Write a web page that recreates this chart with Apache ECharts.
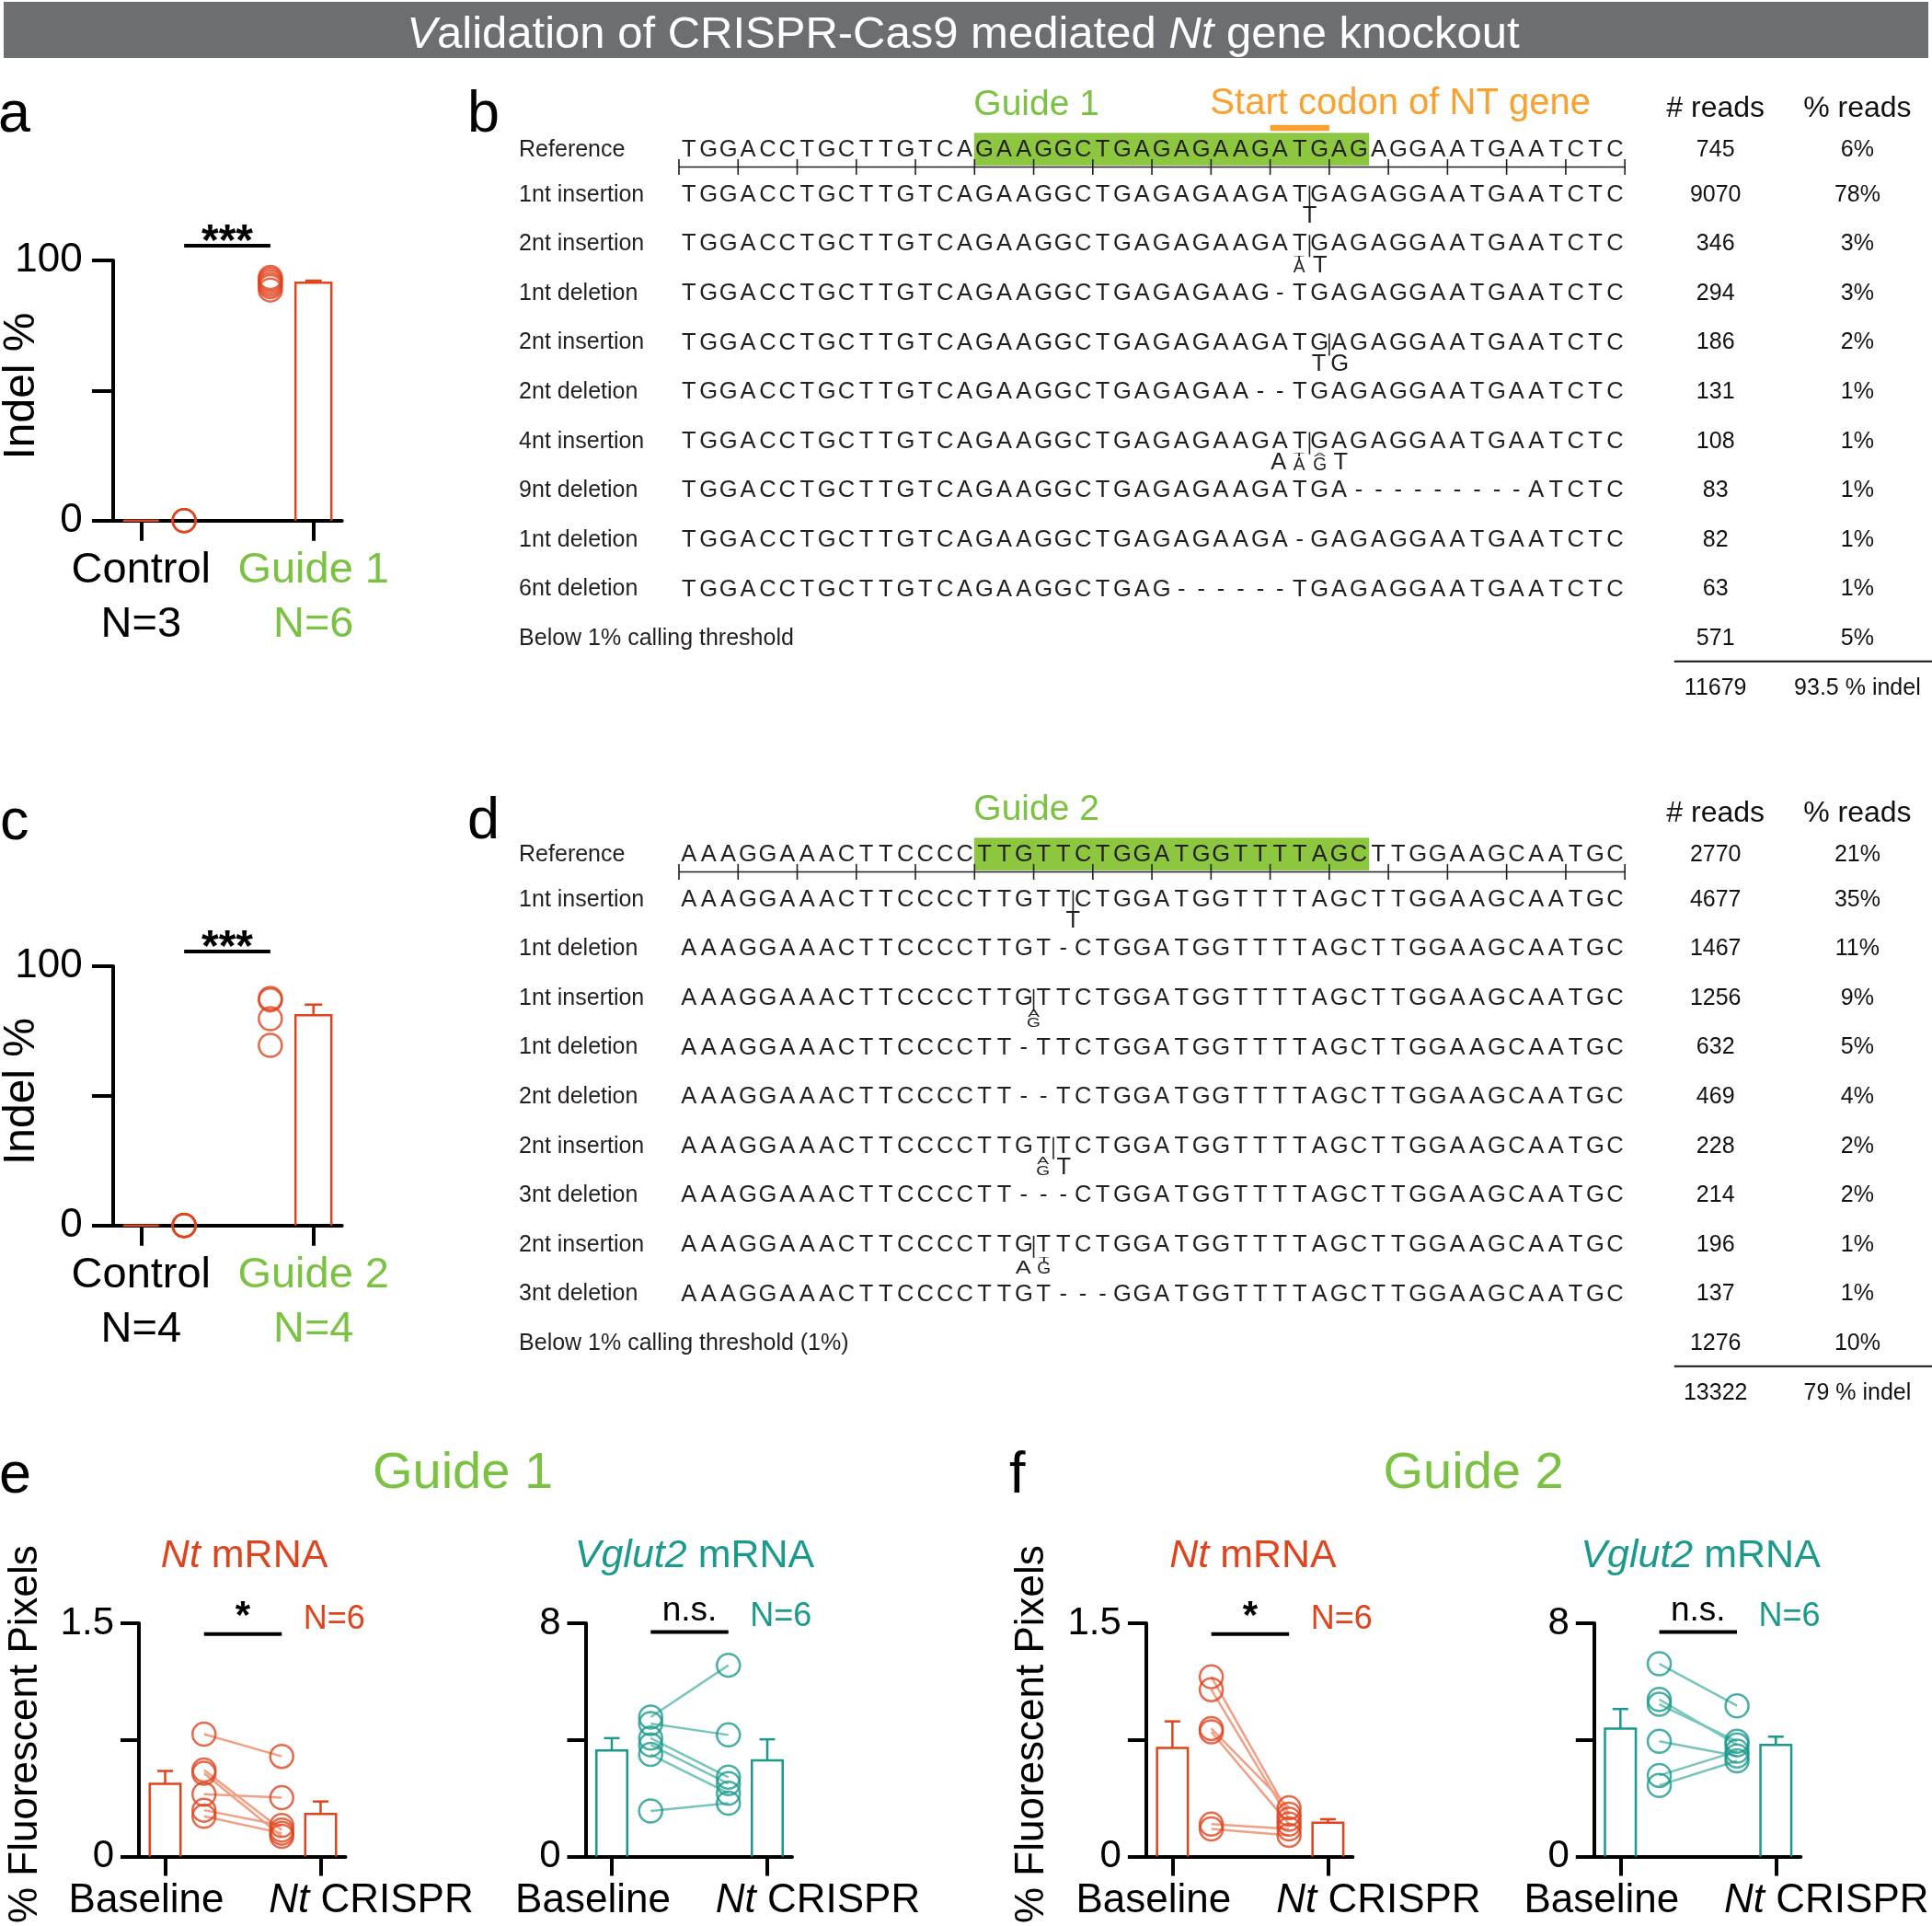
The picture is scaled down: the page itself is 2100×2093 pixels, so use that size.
<!DOCTYPE html>
<html><head><meta charset="utf-8">
<script src="https://cdn.jsdelivr.net/npm/echarts@6/dist/echarts.min.js"></script>
<style>html,body{margin:0;padding:0;background:#fff}#c{width:2100px;height:2093px}</style>
</head><body><div id="c"></div>
<script>
// ---------------- DATA ----------------
const titleParts = ['V', 'alidation of CRISPR-Cas9 mediated ', 'Nt', ' gene knockout'];

// Panel a
const aCategories = ['Control', 'Guide 1'];
const aGroupN = ['N=3', 'N=6'];
const aControl = [0, 0, 0];
const aGuide = [93.4, 92.6, 91.7, 90.8, 89.9, 88.6];
const aMean = [0, 91.4];
const aSem = [0, 0.8];
const aSigText = '***';
const aSigLevel = 105.6;

// Panel c
const cCategories = ['Control', 'Guide 2'];
const cGroupN = ['N=4', 'N=4'];
const cControl = [0, 0, 0, 0];
const cGuide = [87.6, 87.0, 79.8, 69.5];
const cMean = [0, 81.1];
const cSem = [0, 4.1];
const cSigText = '***';
const cSigLevel = 105.7;

const indelTicks = [0, 100];

// Panel b
const bRowLabels = ['Reference', '1nt insertion', '2nt insertion', '1nt deletion', '2nt insertion', '2nt deletion',
  '4nt insertion', '9nt deletion', '1nt deletion', '6nt deletion', 'Below 1% calling threshold'];
const bSequences = [
  'TGGACCTGCTTGTCAGAAGGCTGAGAGAAGATGAGAGGAATGAATCTC',
  'TGGACCTGCTTGTCAGAAGGCTGAGAGAAGAT|GAGAGGAATGAATCTC',
  'TGGACCTGCTTGTCAGAAGGCTGAGAGAAGAT|GAGAGGAATGAATCTC',
  'TGGACCTGCTTGTCAGAAGGCTGAGAGAAG-TGAGAGGAATGAATCTC',
  'TGGACCTGCTTGTCAGAAGGCTGAGAGAAGATG|AGAGGAATGAATCTC',
  'TGGACCTGCTTGTCAGAAGGCTGAGAGAA--TGAGAGGAATGAATCTC',
  'TGGACCTGCTTGTCAGAAGGCTGAGAGAAGAT|GAGAGGAATGAATCTC',
  'TGGACCTGCTTGTCAGAAGGCTGAGAGAAGATGA---------ATCTC',
  'TGGACCTGCTTGTCAGAAGGCTGAGAGAAGA-GAGAGGAATGAATCTC',
  'TGGACCTGCTTGTCAGAAGGCTGAG------TGAGAGGAATGAATCTC',
  ''
];
// inserted bases, each position a stack (top -> bottom) of [base, share]
const bInsertions = [null, [[['T', 1]]], [[['T', 0.22], ['A', 0.78]], [['T', 1]]], null, [[['T', 1]], [['G', 1]]], null,
  [[['A', 1]], [['T', 0.22], ['A', 0.78]], [['A', 0.22], ['G', 0.78]], [['T', 1]]], null, null, null, null];
const bReads = [745, 9070, 346, 294, 186, 131, 108, 83, 82, 63, 571];
const bPercent = ['6%', '78%', '3%', '3%', '2%', '1%', '1%', '1%', '1%', '1%', '5%'];
const bTotalReads = 11679;
const bTotalIndel = '93.5 % indel';
const bGuideName = 'Guide 1';
const bGuideRange = [15, 35];
const bCodonName = 'Start codon of NT gene';
const bCodonRange = [30, 33];

// Panel d
const dRowLabels = ['Reference', '1nt insertion', '1nt deletion', '1nt insertion', '1nt deletion', '2nt deletion',
  '2nt insertion', '3nt deletion', '2nt insertion', '3nt deletion', 'Below 1% calling threshold (1%)'];
const dSequences = [
  'AAAGGAAACTTCCCCTTGTTCTGGATGGTTTTAGCTTGGAAGCAATGC',
  'AAAGGAAACTTCCCCTTGTT|CTGGATGGTTTTAGCTTGGAAGCAATGC',
  'AAAGGAAACTTCCCCTTGT-CTGGATGGTTTTAGCTTGGAAGCAATGC',
  'AAAGGAAACTTCCCCTTG|TTCTGGATGGTTTTAGCTTGGAAGCAATGC',
  'AAAGGAAACTTCCCCTT-TTCTGGATGGTTTTAGCTTGGAAGCAATGC',
  'AAAGGAAACTTCCCCTT--TCTGGATGGTTTTAGCTTGGAAGCAATGC',
  'AAAGGAAACTTCCCCTTGT|TCTGGATGGTTTTAGCTTGGAAGCAATGC',
  'AAAGGAAACTTCCCCTT---CTGGATGGTTTTAGCTTGGAAGCAATGC',
  'AAAGGAAACTTCCCCTTG|TTCTGGATGGTTTTAGCTTGGAAGCAATGC',
  'AAAGGAAACTTCCCCTTGT---GGATGGTTTTAGCTTGGAAGCAATGC',
  ''
];
const dInsertions = [null, [[['T', 1]]], null, [[['A', 0.45], ['G', 0.55]]], null, null,
  [[['A', 0.4], ['G', 0.6]], [['T', 1]]], null, [[['A', 0.8]], [['T', 0.3], ['G', 0.7]]], null, null];
const dReads = [2770, 4677, 1467, 1256, 632, 469, 228, 214, 196, 137, 1276];
const dPercent = ['21%', '35%', '11%', '9%', '5%', '4%', '2%', '2%', '1%', '1%', '10%'];
const dTotalReads = 13322;
const dTotalIndel = '79 % indel';
const dGuideName = 'Guide 2';
const dGuideRange = [15, 35];

// Panels e / f
const efCategories = ['Baseline', 'Nt CRISPR'];
const efN = 'N=6';
const ntTicks = [0, 1.5];
const vgTicks = [0, 8];
const eNtBaseline = [0.787, 0.556, 0.535, 0.401, 0.298, 0.259];
const eNtCrispr = [0.644, 0.170, 0.130, 0.378, 0.200, 0.150];
const eNtMean = [0.467, 0.273];
const eNtSem = [0.083, 0.081];
const eVgBaseline = [4.78, 4.56, 4.06, 3.83, 3.50, 1.56];
const eVgCrispr = [6.56, 4.17, 2.72, 2.50, 2.17, 1.83];
const eVgMean = [3.64, 3.30];
const eVgSem = [0.42, 0.72];
const fNtBaseline = [1.156, 1.073, 0.823, 0.802, 0.208, 0.177];
const fNtCrispr = [0.272, 0.240, 0.313, 0.208, 0.177, 0.136];
const fNtMean = [0.698, 0.218];
const fNtSem = [0.171, 0.022];
const fVgBaseline = [6.61, 5.39, 5.22, 3.95, 2.78, 2.44];
const fVgCrispr = [5.17, 3.83, 3.95, 3.45, 3.61, 3.28];
const fVgMean = [4.39, 3.83];
const fVgSem = [0.67, 0.28];
const ntSig = {text: '*', level: 1.431};
const vgSig = {text: 'n.s.', level: 7.70};

// ---------------- STYLE ----------------
const FONT = "'Liberation Sans', Arial, Helvetica, sans-serif";
const RED = '#de441d', RED_L = '#f0a087', TEAL = '#1b9a8c', TEAL_L = '#78c6bb';
const GREEN = '#7bc142', ORANGE = '#f9a12f', HL = '#8dc63f', INK = '#231f20';
const MID = 0.3465; // canvas 'middle' offset above baseline (em)

const chart = echarts.init(document.getElementById('c'), null, {renderer: 'canvas', width: 2100, height: 2093});

// ---------- helpers ----------
function gText(text, x, ymid, fs, o) {
  o = o || {};
  return {type: 'text', x: x, y: ymid, rotation: o.rot || 0, silent: true, z: 100,
    style: {text: text, fontSize: fs, fontFamily: FONT, fill: o.color || '#000', align: o.align || 'center',
      verticalAlign: 'middle', fontWeight: o.weight || 'normal', rich: o.rich}};
}

function barRenderer(barW, capW, colour) {
  return function (params, api) {
    const x = api.value(0), m = api.value(1), s = api.value(2);
    const p0 = api.coord([x, 0]), p1 = api.coord([x, m]), p2 = api.coord([x, m + s]);
    const xl = p0[0] - barW / 2, xr = p0[0] + barW / 2;
    const ch = [{type: 'polyline', shape: {points: [[xl, p0[1]], [xl, p1[1]], [xr, p1[1]], [xr, p0[1]]]},
      style: {fill: null, stroke: colour, lineWidth: 2.5}}];
    if (s > 0) {
      ch.push({type: 'line', shape: {x1: p1[0], y1: p1[1], x2: p2[0], y2: p2[1]}, style: {stroke: colour, lineWidth: 2.5}});
      ch.push({type: 'line', shape: {x1: p2[0] - capW / 2, y1: p2[1], x2: p2[0] + capW / 2, y2: p2[1]}, style: {stroke: colour, lineWidth: 2.5}});
    }
    return {type: 'group', children: ch};
  };
}
function pairRenderer(colour) {
  return function (params, api) {
    const a = api.coord([api.value(0), api.value(1)]), b = api.coord([api.value(2), api.value(3)]);
    return {type: 'line', shape: {x1: a[0], y1: a[1], x2: b[0], y2: b[1]}, style: {stroke: colour, lineWidth: 2.5}};
  };
}
function sigRenderer(text, fs, weight, off, nText, nColour) {
  return function (params, api) {
    const a = api.coord([api.value(0), api.value(1)]), b = api.coord([api.value(2), api.value(1)]);
    const ch = [
      {type: 'line', shape: {x1: a[0], y1: a[1], x2: b[0], y2: b[1]}, style: {stroke: '#000', lineWidth: 4}},
      {type: 'text', x: (a[0] + b[0]) / 2, y: a[1] - off, style: {text: text, fontSize: fs, fontWeight: weight, fontFamily: FONT, fill: '#000', align: 'center', verticalAlign: 'middle'}}
    ];
    if (nText) ch.push({type: 'text', x: b[0] + 57, y: a[1] - 16, style: {text: nText, fontSize: 36, fontFamily: FONT, fill: nColour, align: 'center', verticalAlign: 'middle'}});
    return {type: 'group', children: ch};
  };
}
// category labels under the e/f axes (Baseline sits a bit left, Nt CRISPR a bit right of its tick)
const catRich = {
  b: {fontSize: 44, fontFamily: FONT, fill: '#000', color: '#000'},
  ni: {fontSize: 44, fontFamily: FONT, fill: '#000', color: '#000', fontStyle: 'italic'},
  c: {fontSize: 44, fontFamily: FONT, fill: '#000', color: '#000'}
};
function catLabelRenderer(params, api) {
  const i = api.value(0);
  const p = api.coord([i, 0]);
  const t = efCategories[i];
  const txt = t.indexOf('Nt ') === 0 ? '{ni|Nt}{c|' + t.slice(2) + '}' : '{b|' + t + '}';
  return {type: 'text', x: p[0] + (i === 0 ? -20.5 : 55), y: p[1] + 48.5,
    style: {text: txt, rich: catRich, fontSize: 44, fontFamily: FONT, fill: '#000', align: 'center', verticalAlign: 'middle'}};
}

function groupSeries(gi, colour, lineColour, groups, mean, sem, o) {
  const s = [];
  s.push({type: 'custom', xAxisIndex: gi, yAxisIndex: gi, clip: false, silent: true, z: 3,
    data: mean.map((m, i) => [i, m, sem[i]]), encode: {x: 0, y: 1}, renderItem: barRenderer(o.barW, o.capW, colour)});
  if (o.paired) {
    s.push({type: 'custom', xAxisIndex: gi, yAxisIndex: gi, clip: false, silent: true, z: 4,
      data: groups[0].map((v, i) => [0.25, v, 0.75, groups[1][i]]), encode: {x: [0, 2], y: [1, 3]}, renderItem: pairRenderer(lineColour)});
    s.push({type: 'custom', xAxisIndex: gi, yAxisIndex: gi, clip: false, silent: true, z: 4,
      data: efCategories.map((c, i) => [i, 0]), encode: {x: 0, y: 1}, renderItem: catLabelRenderer});
  }
  groups.forEach((g, i) => s.push({type: 'scatter', xAxisIndex: gi, yAxisIndex: gi, silent: true, z: 5, clip: false,
    symbol: 'circle', symbolSize: 25, itemStyle: {color: 'rgba(255,255,255,0)', borderColor: colour, borderWidth: 2.5},
    data: g.map(v => [i === 0 ? 0.25 : 0.75, v])}));
  s.push({type: 'custom', xAxisIndex: gi, yAxisIndex: gi, clip: false, silent: true, z: 6,
    data: [[0.25, o.sig.level, 0.75]], encode: {x: [0, 2], y: 1},
    renderItem: sigRenderer(o.sig.text, o.sig.fs, o.sig.weight, o.sig.off, o.nText, colour)});
  return s;
}

// ---------- tables ----------
const COL_LABEL = -8.12, COL_READS = 52.6, COL_PCT = 59.8, CODON_LABEL_U = 27;
const HEADER_SLOT = -0.75, GUIDE_SLOT = -0.82, CODON_SLOT = -0.845, CODONBAR_SLOT = -0.356;
const REF_SLOT = 0.09, SEP_SLOT = 10.46, TOTAL_SLOT = 11;
const SEQ_FS = 25.5;

function tableRenderer(T) {
  return function (params, api) {
    const slot = api.value(1), kind = api.value(2);
    const P = (u, s) => api.coord([u, s]);
    const yc = P(0, slot)[1];
    const out = [];
    const tx = (t, x, y, fs, fill, align) => ({type: 'text', x: x, y: y,
      style: {text: t, fontSize: fs, fontFamily: FONT, fill: fill || INK, align: align || 'center', verticalAlign: 'middle'}});
    if (kind === -1) {
      out.push(tx('# reads', P(COL_READS, 0)[0], yc, 32, '#111'));
      out.push(tx('% reads', P(COL_PCT, 0)[0], yc, 32, '#111'));
      out.push(tx(T.guideName, P(T.guide[0], 0)[0] - 1, P(0, GUIDE_SLOT)[1], 39, GREEN, 'left'));
      if (T.codon) {
        out.push(tx(T.codonName, P(CODON_LABEL_U, 0)[0] - 1, P(0, CODON_SLOT)[1], 40, ORANGE, 'left'));
        const a = P(T.codon[0], CODONBAR_SLOT), b = P(T.codon[1], CODONBAR_SLOT);
        out.push({type: 'rect', shape: {x: a[0], y: a[1] - 3.3, width: b[0] - a[0], height: 6.6}, style: {fill: ORANGE}});
      }
    } else if (kind === 99) {
      const a = P(50.5, SEP_SLOT), b = P(63.7, SEP_SLOT);
      out.push({type: 'line', shape: {x1: a[0], y1: a[1], x2: b[0], y2: b[1]}, style: {stroke: '#111', lineWidth: 2}});
      out.push(tx(String(T.total), P(COL_READS, 0)[0], yc, 25, '#111'));
      out.push(tx(T.totalText, P(COL_PCT, 0)[0], yc, 25, '#111'));
    } else {
      if (kind === 0 && T.guide) {
        const g0 = P(T.guide[0], slot)[0], g1 = P(T.guide[1], slot)[0];
        out.push({type: 'rect', shape: {x: g0, y: yc - 18, width: g1 - g0, height: 34.3}, style: {fill: HL, stroke: '#86bf45', lineWidth: 1}});
        const r0 = P(0, slot)[0], r1 = P(48, slot)[0];
        out.push({type: 'line', shape: {x1: r0, y1: yc + 18.7, x2: r1, y2: yc + 18.7}, style: {stroke: INK, lineWidth: 1.5}});
        for (let u = 0; u <= 48; u += 3) {
          const x = P(u, slot)[0];
          out.push({type: 'line', shape: {x1: x, y1: yc + 10, x2: x, y2: yc + 27}, style: {stroke: INK, lineWidth: 1.6}});
        }
      }
      out.push(tx(T.labels[kind], P(COL_LABEL, 0)[0], yc, 25, INK, 'left'));
      const seq = T.seqs[kind];
      let k = 0, boundary = -1;
      for (const c of seq) {
        if (c === '|') { boundary = k; continue; }
        out.push(tx(c, P(k + 0.5, slot)[0], yc, SEQ_FS, INK));
        k++;
      }
      const ins = T.ins[kind];
      if (boundary >= 0 && ins) {
        const bx = P(boundary, slot)[0];
        out.push({type: 'line', shape: {x1: bx, y1: yc - 10, x2: bx, y2: yc + 14}, style: {stroke: INK, lineWidth: 1.6}});
        const n = ins.length, pitch = 22.5, capH = 0.716 * SEQ_FS, base = yc + 32.3;
        ins.forEach((st, j) => {
          const cx = bx + (j - (n - 1) / 2) * pitch;
          let b = base;
          for (let q = st.length - 1; q >= 0; q--) {
            const L = st[q][0], f = st[q][1];
            out.push({type: 'text', x: cx, y: b, scaleY: f, scaleX: st.length > 1 ? 0.75 : 1,
              style: {text: L, x: 0, y: -MID * SEQ_FS, fontSize: SEQ_FS, fontFamily: FONT, fill: INK, align: 'center', verticalAlign: 'middle'}});
            b -= capH * f + 1;
          }
        });
      }
      out.push(tx(String(T.reads[kind]), P(COL_READS, 0)[0], yc, 25, '#111'));
      out.push(tx(T.pct[kind], P(COL_PCT, 0)[0], yc, 25, '#111'));
    }
    return {type: 'group', children: out};
  };
}
function tableData(T) {
  const d = [[0, HEADER_SLOT, -1]];
  T.labels.forEach((l, i) => d.push([0, i === 0 ? REF_SLOT : i, i]));
  d.push([0, TOTAL_SLOT, 99]);
  return d;
}
const tableB = {labels: bRowLabels, seqs: bSequences, ins: bInsertions, reads: bReads, pct: bPercent, total: bTotalReads,
  totalText: bTotalIndel, guide: bGuideRange, guideName: bGuideName, codon: bCodonRange, codonName: bCodonName};
const tableD = {labels: dRowLabels, seqs: dSequences, ins: dInsertions, reads: dReads, pct: dPercent, total: dTotalReads,
  totalText: dTotalIndel, guide: dGuideRange, guideName: dGuideName, codon: null};

// ---------- axes ----------
const grids = [];
const xAxes = [], yAxes = [];
function addGrid(left, top, width, height) {
  grids.push({left: left, top: top, width: width, height: height, containLabel: false, outerBoundsMode: 'none'});
  return grids.length - 1;
}
function catAxisA(gi, cats, ns) {
  return {type: 'value', gridIndex: gi, min: -0.1633, max: 1.1654,
    axisLine: {show: true, onZero: false, lineStyle: {color: '#000', width: 4}},
    axisTick: {show: true, customValues: [0, 1], length: 22, lineStyle: {color: '#000', width: 4}},
    axisLabel: {show: true, customValues: [0, 1], margin: 25, hideOverlap: false,
      formatter: v => { const i = Math.round(v); const k = i === 0 ? 'k' : 'g'; return '{' + k + '|' + cats[i] + '}\n{' + k + '|' + ns[i] + '}'; },
      rich: {k: {color: '#000', fontSize: 47, lineHeight: 59, fontFamily: FONT}, g: {color: GREEN, fontSize: 47, lineHeight: 59, fontFamily: FONT}}},
    splitLine: {show: false}};
}
function valAxisA(gi) {
  return {type: 'value', gridIndex: gi, min: 0, max: 100, interval: 50,
    axisLine: {show: true, onZero: false, lineStyle: {color: '#000', width: 4}},
    axisTick: {show: true, length: 22.7, lineStyle: {color: '#000', width: 4}},
    axisLabel: {show: true, customValues: indelTicks, margin: 33, color: '#000', fontSize: 44, fontFamily: FONT},
    splitLine: {show: false}};
}
function catAxisE(gi) {
  return {type: 'value', gridIndex: gi, min: -28.5 / 169, max: 1 + 27 / 169,
    axisLine: {show: true, onZero: false, lineStyle: {color: '#000', width: 4}},
    axisTick: {show: true, customValues: [0, 1], length: 21, lineStyle: {color: '#000', width: 4}},
    axisLabel: {show: false},
    splitLine: {show: false}};
}
function valAxisE(gi, max, ticks) {
  return {type: 'value', gridIndex: gi, min: 0, max: max, interval: max / 2,
    axisLine: {show: true, onZero: false, lineStyle: {color: '#000', width: 4}},
    axisTick: {show: true, length: 20, lineStyle: {color: '#000', width: 4}},
    axisLabel: {show: true, customValues: ticks, margin: 27, color: '#000', fontSize: 42, fontFamily: FONT},
    splitLine: {show: false}};
}
function hiddenAxes(gi) {
  xAxes.push({type: 'value', gridIndex: gi, min: 0, max: 48, show: false});
  yAxes.push({type: 'value', gridIndex: gi, min: 0, max: 11, inverse: true, show: false});
}

const series = [];
// panel a
const gA = addGrid(122.7, 282.9, 249, 282.8);
xAxes.push(catAxisA(gA, aCategories, aGroupN)); yAxes.push(valAxisA(gA));
series.push(...groupSeries(gA, RED, RED_L, [aControl, aGuide], aMean, aSem,
  {barW: 39, capW: 18, paired: false, sig: {text: aSigText, level: aSigLevel, fs: 48, weight: 'bold', off: 3.5}}));
// panel c
const gC = addGrid(122.7, 1050, 249, 281.8);
xAxes.push(catAxisA(gC, cCategories, cGroupN)); yAxes.push(valAxisA(gC));
series.push(...groupSeries(gC, RED, RED_L, [cControl, cGuide], cMean, cSem,
  {barW: 39, capW: 19, paired: false, sig: {text: cSigText, level: cSigLevel, fs: 48, weight: 'bold', off: 3.5}}));
// panel b / d tables
const gB = addGrid(738, 158.1, 48 * 21.42, 11 * 53.6); hiddenAxes(gB);
series.push({type: 'custom', xAxisIndex: gB, yAxisIndex: gB, clip: false, silent: true, z: 3,
  data: tableData(tableB), encode: {x: 0, y: 1}, renderItem: tableRenderer(tableB)});
const gD = addGrid(738, 924.1, 48 * 21.42, 11 * 53.6); hiddenAxes(gD);
series.push({type: 'custom', xAxisIndex: gD, yAxisIndex: gD, clip: false, silent: true, z: 3,
  data: tableData(tableD), encode: {x: 0, y: 1}, renderItem: tableRenderer(tableD)});
// panels e / f
const efTick0 = [179.5, 665, 1274.4, 1761.3];
const efPanels = [
  {max: 1.5, ticks: ntTicks, col: RED, lcol: RED_L, g: [eNtBaseline, eNtCrispr], m: eNtMean, s: eNtSem, sig: ntSig},
  {max: 8, ticks: vgTicks, col: TEAL, lcol: TEAL_L, g: [eVgBaseline, eVgCrispr], m: eVgMean, s: eVgSem, sig: vgSig},
  {max: 1.5, ticks: ntTicks, col: RED, lcol: RED_L, g: [fNtBaseline, fNtCrispr], m: fNtMean, s: fNtSem, sig: ntSig},
  {max: 8, ticks: vgTicks, col: TEAL, lcol: TEAL_L, g: [fVgBaseline, fVgCrispr], m: fVgMean, s: fVgSem, sig: vgSig}
];
efPanels.forEach((p, i) => {
  const gi = addGrid(efTick0[i] - 28.5, 1764, 224.5, 253.5);
  xAxes.push(catAxisE(gi)); yAxes.push(valAxisE(gi, p.max, p.ticks));
  const star = p.sig.text === '*';
  series.push(...groupSeries(gi, p.col, p.lcol, p.g, p.m, p.s,
    {barW: 33.5, capW: 17, paired: true, nText: efN,
      sig: {text: p.sig.text, level: p.sig.level, fs: star ? 42 : 37, weight: star ? 'bold' : 'normal', off: star ? 18.6 : 22.3}}));
});

// ---------- graphic texts ----------
const rs = (o) => Object.assign({fontSize: 49, fontFamily: FONT, fill: '#fff', color: '#fff'}, o);
const graphics = [
  {type: 'rect', shape: {x: 4, y: 2, width: 2092, height: 61}, style: {fill: '#6d6e71'}, silent: true, z: 90},
  gText('{i|' + titleParts[0] + '}{r|' + titleParts[1] + '}{i|' + titleParts[2] + '}{r|' + titleParts[3] + '}', 1047, 38, 49,
    {color: '#fff', rich: {i: rs({fontStyle: 'italic'}), r: rs({})}}),
  gText('a', -2, 147 - MID * 63, 63, {align: 'left'}),
  gText('b', 508, 147 - MID * 63, 63, {align: 'left'}),
  gText('c', 0, 916 - MID * 63, 63, {align: 'left'}),
  gText('d', 508, 915 - MID * 63, 63, {align: 'left'}),
  gText('e', -1, 1626 - MID * 63, 63, {align: 'left'}),
  gText('f', 1097, 1626 - MID * 63, 63, {align: 'left'}),
  gText('Indel %', 23.4, 419.5, 48, {rot: Math.PI / 2}),
  gText('Indel %', 23.4, 1186, 48, {rot: Math.PI / 2}),
  gText('% Fluorescent Pixels', 28.3, 1884.6, 44, {rot: Math.PI / 2}),
  gText('% Fluorescent Pixels', 1121.8, 1884.6, 44, {rot: Math.PI / 2}),
  gText('Guide 1', 503, 1621 - MID * 56, 56, {color: GREEN}),
  gText('Guide 2', 1601.6, 1621 - MID * 56, 56, {color: GREEN})
];
const mr = (c, it) => ({fontSize: 43, fontFamily: FONT, fill: c, color: c, fontStyle: it ? 'italic' : 'normal'});
[[265.6, 'Nt', ' mRNA', RED], [755, 'Vglut2', ' mRNA', TEAL], [1362, 'Nt', ' mRNA', RED], [1848.6, 'Vglut2', ' mRNA', TEAL]].forEach(t => {
  graphics.push(gText('{i|' + t[1] + '}{r|' + t[2] + '}', t[0], 1705.8 - MID * 43, 43, {color: t[3], rich: {i: mr(t[3], true), r: mr(t[3], false)}}));
});

chart.setOption({
  animation: false,
  backgroundColor: '#ffffff',
  textStyle: {fontFamily: FONT},
  grid: grids,
  xAxis: xAxes,
  yAxis: yAxes,
  series: series,
  graphic: {elements: graphics}
});
</script>
</body></html>
